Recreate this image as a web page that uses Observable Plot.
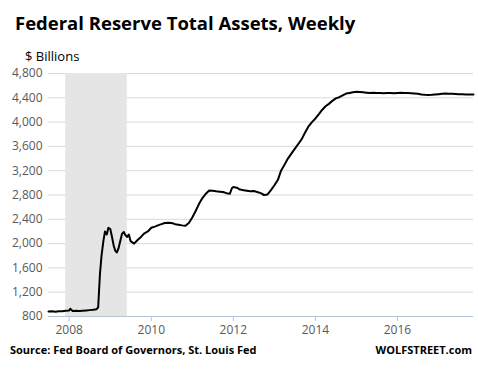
<!DOCTYPE html>
<html><head><meta charset="utf-8">
<script src="https://cdn.jsdelivr.net/npm/d3@7"></script>
<script src="https://cdn.jsdelivr.net/npm/@observablehq/plot@0.6"></script>
<style>
body{margin:0;background:#fff;font-family:"Open Sans",sans-serif;}
#wrap{position:relative;width:478px;height:377px;overflow:hidden;}
#title{position:absolute;left:15px;top:10px;font-size:18.5px;font-weight:bold;color:#000;white-space:nowrap;}
#unit{position:absolute;left:25px;top:47px;font-size:13px;color:#000;}
#chart{position:absolute;left:0;top:65px;}
#src{position:absolute;left:10px;top:342px;font-size:11px;font-weight:bold;color:#000;white-space:nowrap;}
#brand{position:absolute;right:6px;top:342px;font-size:11px;font-weight:bold;color:#000;white-space:nowrap;}
</style></head>
<body><div id="wrap">
<div id="title">Federal Reserve Total Assets, Weekly</div>
<div id="unit">$ Billions</div>
<div id="chart"></div>
<div id="src">Source: Fed Board of Governors, St. Louis Fed</div>
<div id="brand">WOLFSTREET.com</div>
</div>
<script>
const dates = [
"2007-07-01","2007-08-01","2007-09-01","2007-10-01","2007-11-01","2007-12-01",
"2008-01-01","2008-01-10","2008-02-01","2008-03-01","2008-04-01","2008-05-01","2008-06-01","2008-07-01","2008-08-01","2008-09-01","2008-09-15","2008-10-01","2008-10-15","2008-11-01","2008-11-15","2008-12-01","2008-12-15",
"2009-01-01","2009-01-15","2009-02-01","2009-02-15","2009-03-01","2009-03-15","2009-04-01","2009-04-15","2009-05-01","2009-05-15","2009-06-01","2009-06-15","2009-07-01","2009-08-01","2009-09-01","2009-10-01","2009-11-01","2009-12-01",
"2010-01-01","2010-02-01","2010-03-01","2010-04-01","2010-05-01","2010-06-01","2010-07-01","2010-08-01","2010-09-01","2010-10-01","2010-11-01","2010-12-01",
"2011-01-01","2011-02-01","2011-03-01","2011-04-01","2011-05-01","2011-06-01","2011-07-01","2011-08-01","2011-09-01","2011-10-01","2011-11-01","2011-12-01","2011-12-20",
"2012-01-01","2012-02-01","2012-03-01","2012-04-01","2012-05-01","2012-06-01","2012-07-01","2012-08-01","2012-09-01","2012-10-01","2012-11-01","2012-12-01",
"2013-01-01","2013-02-01","2013-03-01","2013-04-01","2013-05-01","2013-06-01","2013-07-01","2013-08-01","2013-09-01","2013-10-01","2013-11-01","2013-12-01",
"2014-01-01","2014-02-01","2014-03-01","2014-04-01","2014-05-01","2014-06-01","2014-07-01","2014-08-01","2014-09-01","2014-10-01","2014-11-01","2014-12-01",
"2015-01-01","2015-02-01","2015-03-01","2015-04-01","2015-05-01","2015-06-01","2015-07-01","2015-08-01","2015-09-01","2015-10-01","2015-11-01","2015-12-01",
"2016-01-01","2016-02-01","2016-03-01","2016-04-01","2016-05-01","2016-06-01","2016-07-01","2016-08-01","2016-09-01","2016-10-01","2016-11-01","2016-12-01",
"2017-01-01","2017-02-01","2017-03-01","2017-04-01","2017-05-01","2017-06-01","2017-07-01","2017-08-01","2017-09-01","2017-10-01","2017-11-08"
];
const assets = [
882,885,880,886,888,895,
900,928,890,895,890,896,900,905,910,920,950,1500,1800,2050,2200,2150,2260,
2240,2120,1960,1880,1855,1920,2050,2160,2190,2140,2110,2150,2040,2000,2060,2110,2170,2200,
2260,2280,2300,2320,2340,2345,2340,2320,2310,2300,2295,2340,
2430,2540,2650,2750,2820,2875,2870,2860,2855,2850,2830,2820,2915,
2930,2920,2890,2880,2870,2860,2865,2850,2830,2800,2810,2880,
2960,3050,3200,3300,3400,3480,3560,3640,3720,3830,3930,4000,
4060,4130,4200,4260,4300,4350,4390,4410,4440,4470,4480,4490,
4500,4495,4490,4485,4480,4485,4480,4480,4475,4480,4480,4475,
4480,4485,4480,4478,4475,4470,4465,4455,4450,4448,4450,4455,
4460,4465,4470,4468,4465,4462,4460,4458,4456,4455,4454
];
const recession = [{start:"2007-12-01", end:"2009-06-01"}];
const yTicks = [800,1200,1600,2000,2400,2800,3200,3600,4000,4400,4800];
const xTickYears = ["2008","2010","2012","2014","2016"];

const data = dates.map((d,i)=>({date:new Date(d), value:assets[i]}));
const rec = recession.map(r=>({start:new Date(r.start), end:new Date(r.end)}));
const xTicks = xTickYears.map(y=>new Date(y+"-01-01"));

const chart = Plot.plot({
  width:478, height:285,
  marginTop:8, marginBottom:34, marginLeft:48, marginRight:5,
  style:{fontFamily:"'Open Sans',sans-serif", fontSize:"12px", color:"#595959", background:"transparent"},
  x:{type:"time", domain:[new Date("2007-07-01"), new Date("2017-11-08")], ticks:xTicks, tickFormat:d3.utcFormat("%Y"), label:null},
  y:{domain:[800,4800], ticks:yTicks, label:null},
  marks:[
    Plot.gridY(yTicks, {stroke:"#d9d9d9", strokeOpacity:1, strokeWidth:1}),
    Plot.rectY(rec, {x1:"start", x2:"end", y1:800, y2:4800, fill:"#e5e5e5"}),
    Plot.axisY(yTicks, {tickSize:0, tickPadding:6, tickFormat:d3.format(","), fill:"#595959", fontSize:12, label:null}),
    Plot.axisX(xTicks, {tickSize:5, tickPadding:4, stroke:"#b4c2dc", tickFormat:d3.utcFormat("%Y"), fill:"#595959", fontSize:12, label:null}),
    Plot.ruleY([800], {stroke:"#b4c2dc", strokeWidth:1.2}),
    Plot.line(data, {x:"date", y:"value", stroke:"#000", strokeWidth:2, curve:"linear"})
  ]
});
document.getElementById("chart").appendChild(chart);
</script>
</body></html>
